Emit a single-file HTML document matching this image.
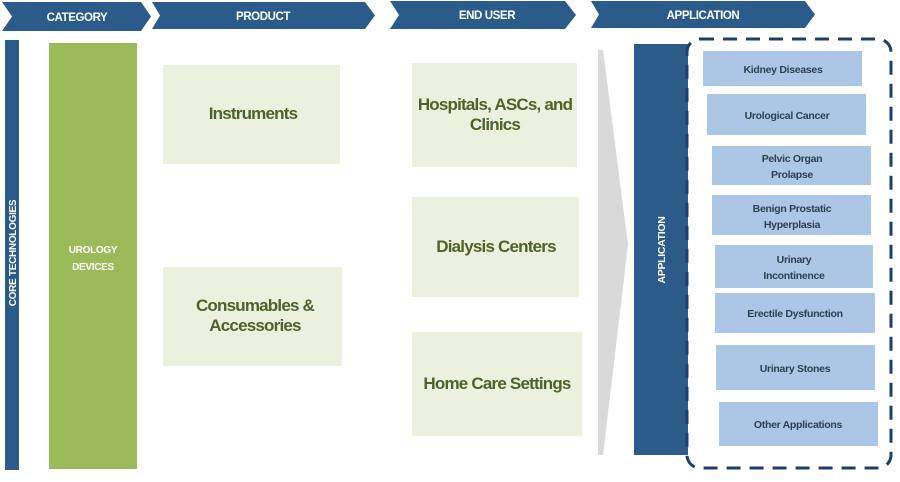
<!DOCTYPE html>
<html><head><meta charset="utf-8"><style>
body{margin:0;width:900px;height:477px;background:#fff;overflow:hidden;font-family:"Liberation Sans",sans-serif}
svg text{font-family:"Liberation Sans",sans-serif;font-weight:bold}
</style></head><body>
<svg width="900" height="477" viewBox="0 0 900 477" xmlns="http://www.w3.org/2000/svg">
<!-- header chevrons -->
<g fill="#2b5b8a">
<polygon points="2,2 141,2 151,16.5 141,31 2,31 12,16.5"/>
<polygon points="152,2 365,2 375,15.5 365,29 152,29 160,15.5"/>
<polygon points="390,1 565,1 576,15 565,29 390,29 399,15"/>
<polygon points="591,1 805,1 815,14.5 805,28 591,28 599,14.5"/>
</g>
<g fill="#fff" font-size="11.5" text-anchor="middle" letter-spacing="-0.4">
<text x="77" y="21">CATEGORY</text>
<text x="263" y="20">PRODUCT</text>
<text x="487" y="19">END USER</text>
<text x="703" y="19">APPLICATION</text>
</g>
<!-- core bar -->
<rect x="5" y="40" width="14" height="430" fill="#2b5b8a"/>
<text transform="translate(16,253) rotate(-90)" fill="#fff" font-size="10" text-anchor="middle" letter-spacing="-0.3">CORE TECHNOLOGIES</text>
<!-- urology -->
<rect x="49" y="43" width="88" height="426" fill="#9bbb59"/>
<text x="93" y="253" fill="#fff" font-size="10" text-anchor="middle" letter-spacing="-0.3">UROLOGY</text>
<text x="93" y="270" fill="#fff" font-size="10" text-anchor="middle" letter-spacing="-0.3">DEVICES</text>
<!-- product boxes -->
<g fill="#ebf1de">
<rect x="163" y="65" width="177" height="99"/>
<rect x="163" y="267" width="179" height="99"/>
<rect x="412" y="63" width="165" height="104"/>
<rect x="412" y="197" width="167" height="100"/>
<rect x="412" y="332" width="170" height="104"/>
</g>
<g fill="#4f6228" font-size="17" text-anchor="middle" letter-spacing="-0.8">
<text x="253" y="119">Instruments</text>
<text x="255" y="311">Consumables &amp;</text>
<text x="255" y="331">Accessories</text>
<text x="495" y="110">Hospitals, ASCs, and</text>
<text x="495" y="130">Clinics</text>
<text x="496" y="252">Dialysis Centers</text>
<text x="497" y="389">Home Care Settings</text>
</g>
<!-- grey wedge -->
<polygon points="598,50 603,50 628,245 603,455 598,455" fill="#d9d9d9"/>
<!-- application bar -->
<rect x="634" y="44" width="54" height="411" fill="#2b5b8a"/>
<text transform="translate(665,250) rotate(-90)" fill="#fff" font-size="10.5" text-anchor="middle" letter-spacing="-0.3">APPLICATION</text>
<!-- dashed border -->
<rect x="687" y="39" width="204" height="429" rx="13" fill="none" stroke="#1f3f6a" stroke-width="3" stroke-dasharray="14,9"/>
<g fill="#abc7e5">
<rect x="703" y="51" width="159" height="35"/>
<rect x="707" y="94" width="159" height="41"/>
<rect x="712" y="146" width="159" height="39"/>
<rect x="712" y="195" width="159" height="40"/>
<rect x="715" y="245" width="158" height="43"/>
<rect x="715" y="293" width="160" height="40"/>
<rect x="716" y="345" width="159" height="45"/>
<rect x="719" y="402" width="159" height="44"/>
</g>
<g fill="#2e3f52" font-size="10.5" text-anchor="middle" letter-spacing="-0.3">
<text x="783" y="73">Kidney Diseases</text>
<text x="787" y="119">Urological Cancer</text>
<text x="792" y="162">Pelvic Organ</text>
<text x="792" y="178">Prolapse</text>
<text x="792" y="212">Benign Prostatic</text>
<text x="792" y="228">Hyperplasia</text>
<text x="794" y="263">Urinary</text>
<text x="794" y="279">Incontinence</text>
<text x="795" y="317">Erectile Dysfunction</text>
<text x="795" y="372">Urinary Stones</text>
<text x="798" y="428">Other Applications</text>
</g>
</svg>
</body></html>
